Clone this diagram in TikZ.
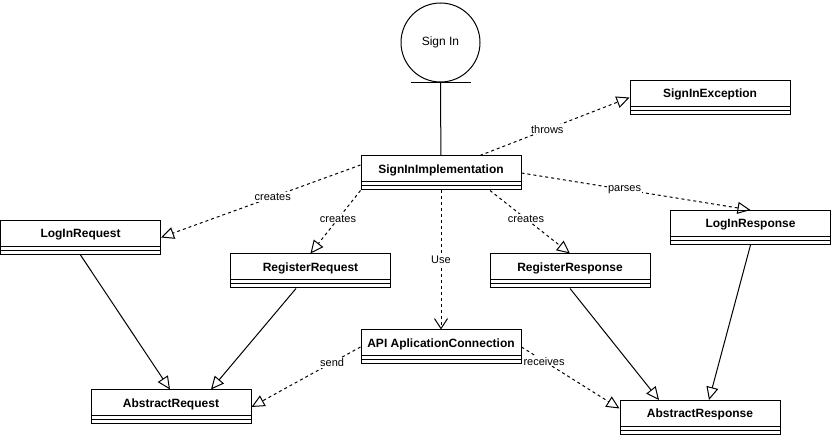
\documentclass[tikz,border=0pt]{standalone}
\usepackage{fontspec}
\setmainfont{Liberation Sans}
\usetikzlibrary{shapes,arrows.meta}
\tikzstyle{umlclass} = [rectangle, draw, line width=1pt, minimum width=160pt, minimum height=34pt,
    inner sep=0pt, text height=9pt, text depth=8.4pt, font=\fontsize{12}{14}\selectfont\bfseries,
    path picture={
        \draw [line width=1pt] ([yshift=-26pt]path picture bounding box.north west) -- ([yshift=-26pt]path picture bounding box.north east);
        \draw [line width=1pt] ([yshift=-30pt]path picture bounding box.north west) -- ([yshift=-30pt]path picture bounding box.north east);}]
\tikzstyle{boundary} = [circle, draw, line width=1pt, minimum size=79pt, font=\fontsize{12}{14}\selectfont]
\tikzstyle{line} = [draw, line width=1pt, -{Triangle[open, length=13pt, width=12pt]}]
\tikzstyle{dashedline} = [line, dash pattern=on 3pt off 3pt]
\tikzstyle{useline} = [draw, line width=1pt, dash pattern=on 3pt off 3pt, -{Straight Barb[length=10pt, width=13pt]}]
\tikzstyle{edgelabel} = [fill=white, inner sep=1pt, font=\fontsize{11}{13}\selectfont]

\begin{document}
\begin{tikzpicture}[x=1pt, y=-1pt]
    \useasboundingbox (0,0) rectangle (831,435);
    \node [boundary] (signin) at (440.5,42.5) {Sign In};
    \node [umlclass] (impl) at (441,173) {SignInImplementation};
    \node [umlclass, below of=impl, node distance=174pt] (api) {API AplicationConnection};
    \node [umlclass] (exc) at (710,97.5) {SignInException};
    \node [umlclass] (loginreq) at (80.5,237.5) {LogInRequest};
    \node [umlclass] (regreq) at (310.5,271) {RegisterRequest};
    \node [umlclass, right of=regreq, node distance=259.5pt] (regresp) {RegisterResponse};
    \node [umlclass] (loginresp) at (750.5,227.5) {LogInResponse};
    \node [umlclass] (absreq) at (171,407) {AbstractRequest};
    \node [umlclass] (absresp) at (700,417.5) {AbstractResponse};

    \draw [line width=1pt] ([xshift=-30pt]signin.south) -- ([xshift=30pt]signin.south);
    \draw [line width=1pt] (signin.south) -- (impl);
    \path [dashedline] ([xshift=39pt]impl.north) -- node [edgelabel, pos=0.45] {throws} (exc.west);
    \path [dashedline] (impl.east) -- node [edgelabel, pos=0.45] {parses} (loginresp.north);
    \path [dashedline] ([yshift=8pt]impl.west) -- node [edgelabel, pos=0.44] {creates} (loginreq.east);
    \path [dashedline] (impl.south west) -- node [edgelabel, pos=0.45] {creates} (regreq.north);
    \path [dashedline] ([xshift=49pt]impl.south) -- node [edgelabel, pos=0.45] {creates} (regresp.north);
    \path [useline] (impl) -- node [edgelabel, pos=0.5] {Use} (api);
    \path [dashedline] (api.west) -- node [edgelabel, pos=0.26] {send} (absreq.east);
    \path [dashedline] (api.east) -- node [edgelabel, pos=0.23] {receives} ([yshift=9pt]absresp.west);

    \path [line] (loginreq.south) -- ([xshift=-1pt]absreq.north);
    \path [line] ([xshift=-14.5pt]regreq.south) -- ([xshift=40pt]absreq.north);
    \path [line] (regresp.south) -- ([xshift=-41pt]absresp.north);
    \path [line] (loginresp.south) -- ([xshift=9pt]absresp.north);
\end{tikzpicture}
\end{document}
